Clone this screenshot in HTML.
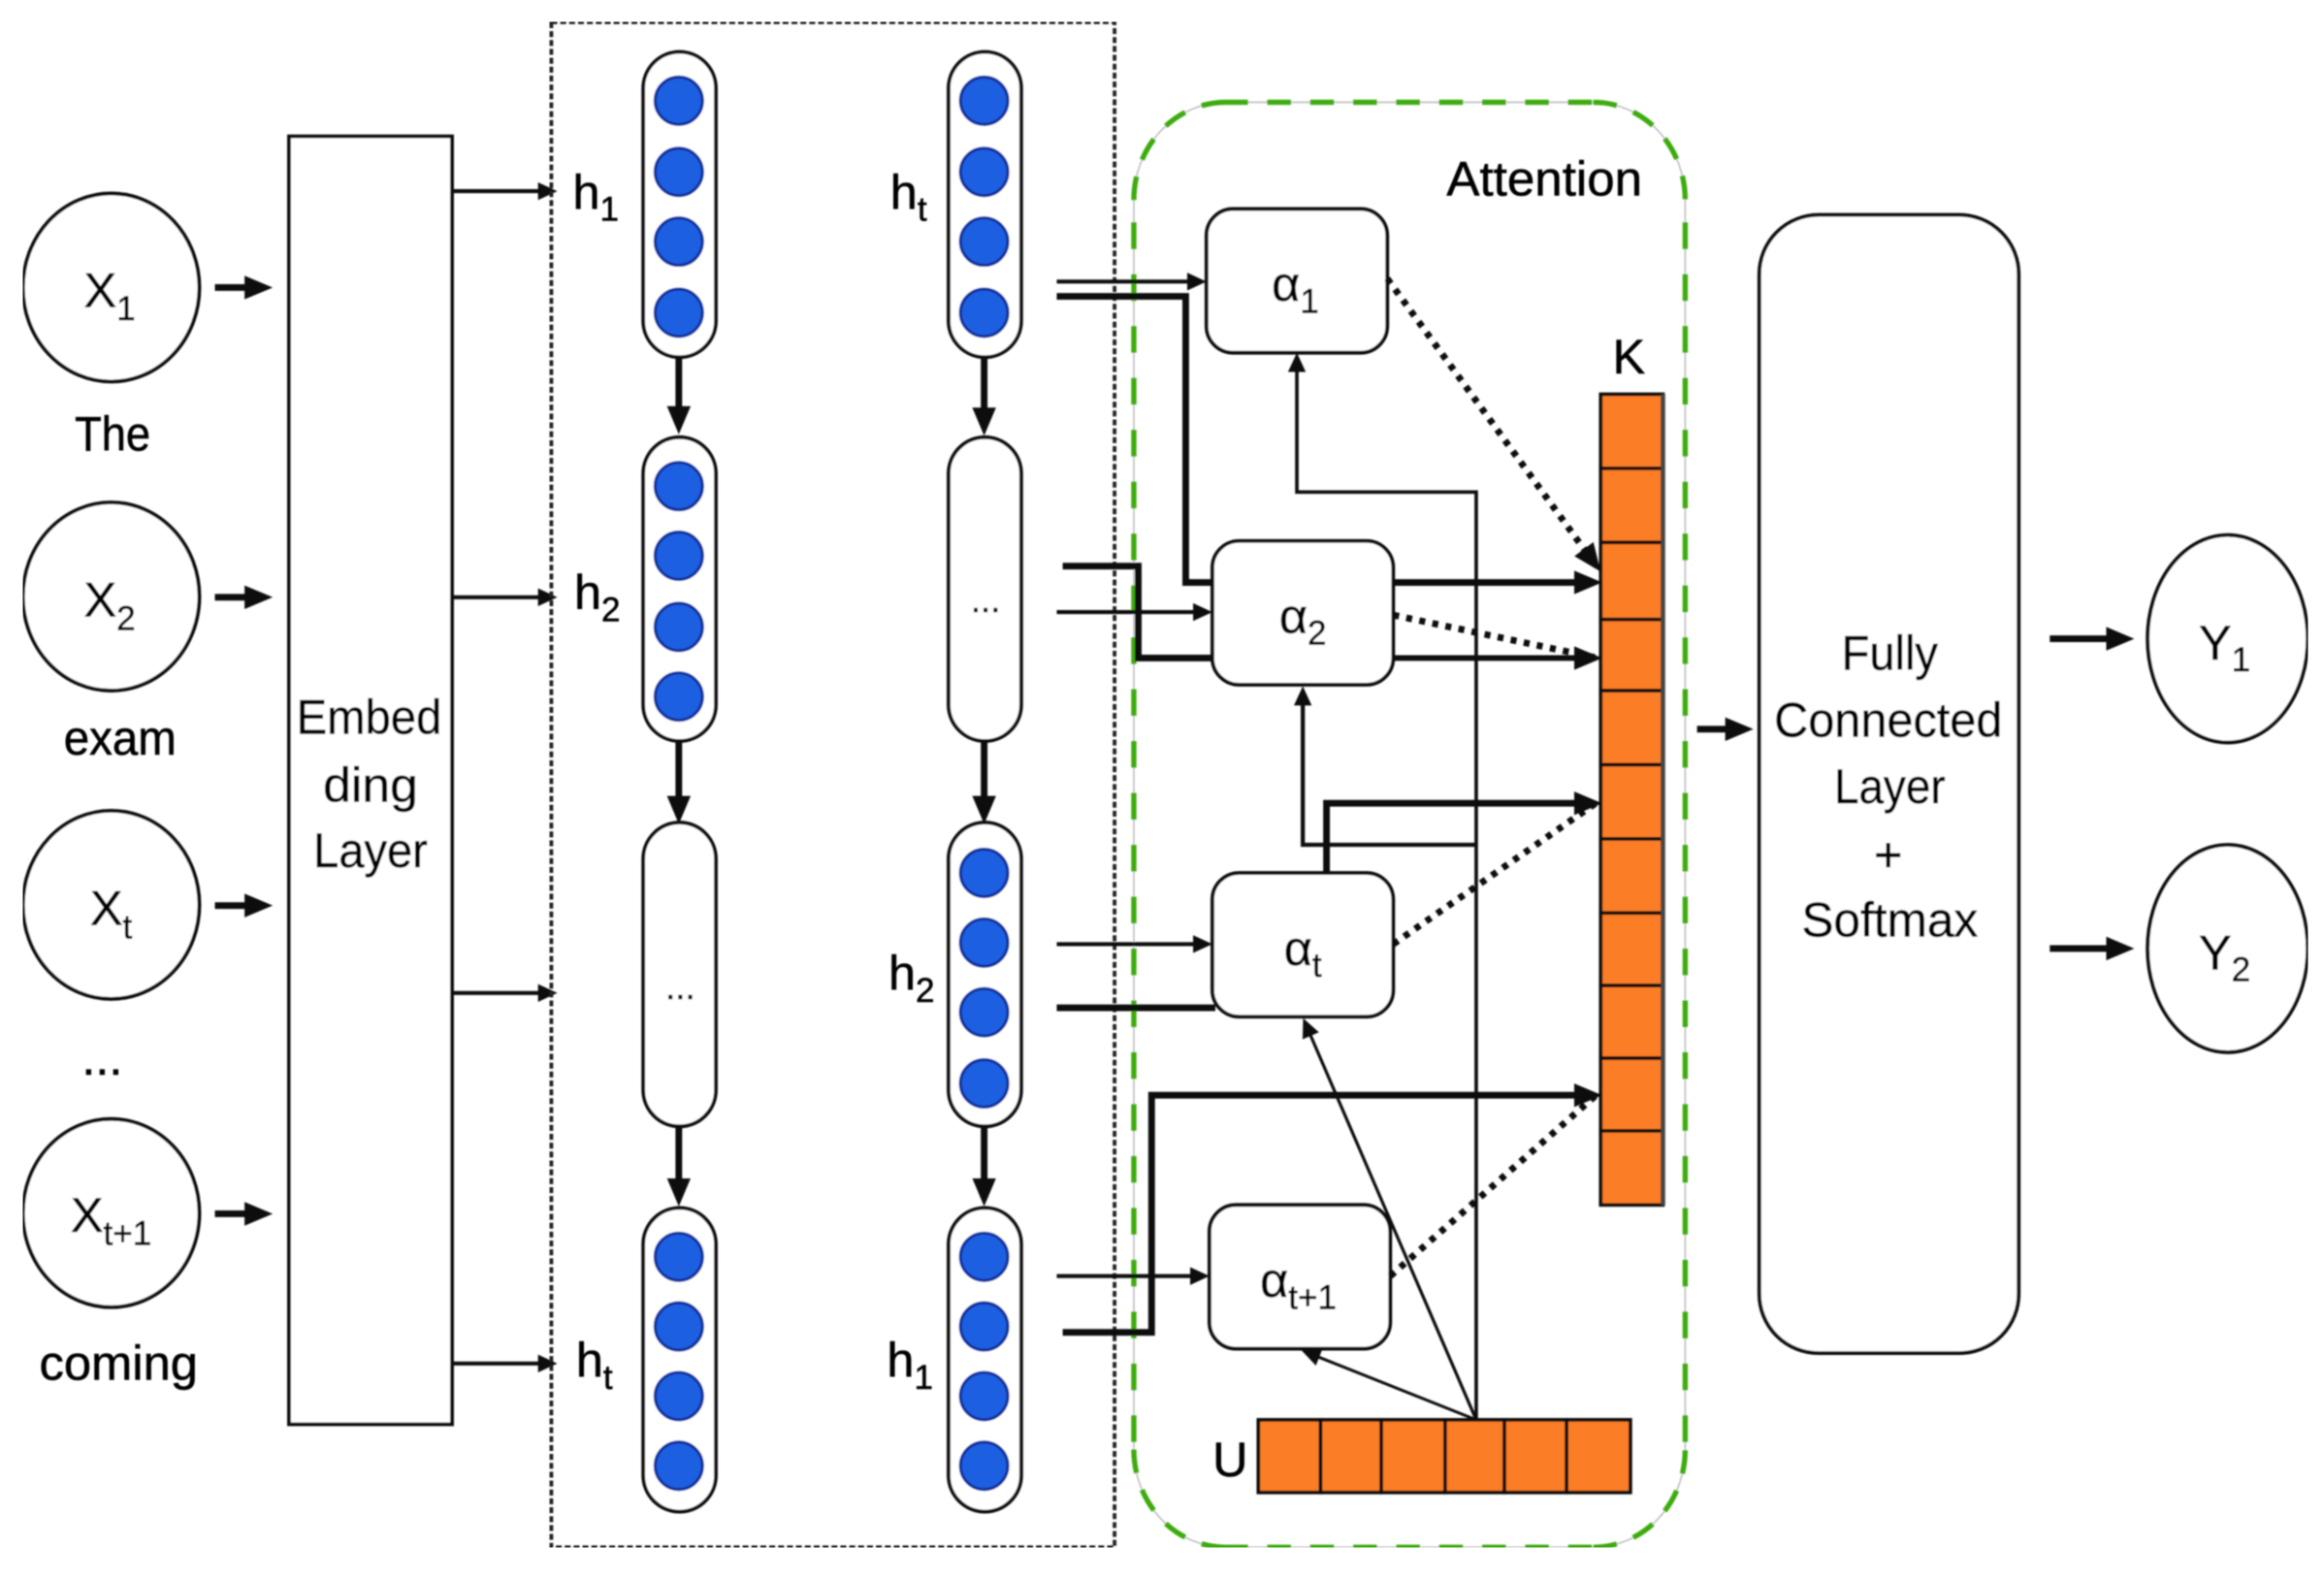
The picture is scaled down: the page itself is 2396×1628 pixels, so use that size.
<!DOCTYPE html>
<html><head><meta charset="utf-8"><style>
html,body{margin:0;padding:0;background:#fff;width:2396px;height:1628px;overflow:hidden}
svg{display:block}
text{font-family:"Liberation Sans",sans-serif;fill:#000;stroke:#000;stroke-width:.35px;font-size:33px;text-anchor:middle}
.s{font-size:23px}
.p{fill:#fff;stroke:#111;stroke-width:2.5}
.d{fill:#1a5fe0;stroke:#0b2f9c;stroke-width:2}
.o{fill:#fb7d25;stroke:#111;stroke-width:2.4}
.l{fill:none;stroke:#111;stroke-width:2}
.m{fill:none;stroke:#111;stroke-width:2.7}
.t{fill:none;stroke:#111;stroke-width:4.5}
.q{fill:none;stroke:#111;stroke-width:4.5;stroke-dasharray:4 5}
.g{fill:none;stroke:#3cab0c;stroke-width:3.5}
</style></head><body>
<svg width="2396" height="1628" viewBox="0 0 1568 1065.4" xmlns="http://www.w3.org/2000/svg">
<defs>
<marker id="a" markerUnits="userSpaceOnUse" markerWidth="14" markerHeight="14" refX="6" refY="7" orient="auto"><path d="M0 1L13 7L0 13z" fill="#111"/></marker>
<marker id="b" markerUnits="userSpaceOnUse" markerWidth="20" markerHeight="20" refX="9" refY="10" orient="auto"><path d="M0 2L19 10L0 18z" fill="#111"/></marker>
<filter id="f" x="0" y="0" width="100%" height="100%"><feGaussianBlur stdDeviation="0.45"/></filter>
</defs>
<rect width="1568" height="1066" fill="#fff"/>
<g filter="url(#f)">

<!-- input circles -->
<ellipse class="p" cx="75" cy="194" rx="59.5" ry="63.5"/><ellipse class="p" cx="75" cy="402.5" rx="59.5" ry="63.5"/><ellipse class="p" cx="75" cy="610.5" rx="59.5" ry="63.5"/><ellipse class="p" cx="75" cy="818.5" rx="59.5" ry="63.5"/>
<text x="74" y="207">X<tspan class="s" dy="9">1</tspan></text>
<text x="74" y="416">X<tspan class="s" dy="9">2</tspan></text>
<text x="75" y="624">X<tspan class="s" dy="9">t</tspan></text>
<text x="75" y="831">X<tspan class="s" dy="9">t+1</tspan></text>
<text x="76" y="304" textLength="51" lengthAdjust="spacingAndGlyphs">The</text><text x="81" y="509" textLength="76" lengthAdjust="spacingAndGlyphs">exam</text><text x="69" y="725">...</text><text x="80" y="931" textLength="107" lengthAdjust="spacingAndGlyphs">coming</text>
<path class="t" d="M145 194H174" marker-end="url(#b)"/><path class="t" d="M145 403H174" marker-end="url(#b)"/><path class="t" d="M145 611H174" marker-end="url(#b)"/><path class="t" d="M145 819H174" marker-end="url(#b)"/>

<!-- embedding -->
<rect x="195" y="92" width="110" height="869" class="p"/>
<text x="249" y="495" textLength="98" lengthAdjust="spacingAndGlyphs">Embed</text><text x="250" y="541" textLength="64" lengthAdjust="spacingAndGlyphs">ding</text><text x="250" y="585" textLength="77" lengthAdjust="spacingAndGlyphs">Layer</text>
<path class="m" d="M305 129H369" marker-end="url(#a)"/><path class="m" d="M305 403H369" marker-end="url(#a)"/><path class="m" d="M305 670H369" marker-end="url(#a)"/><path class="m" d="M305 920H369" marker-end="url(#a)"/>

<!-- bi-lstm box -->
<rect x="372" y="15" width="380" height="1029" fill="none" stroke="#222" stroke-width="2.5" stroke-dasharray="4 2"/>
<text x="402" y="141">h<tspan class="s" dy="8">1</tspan></text>
<text x="403" y="411">h<tspan class="s" dy="8">2</tspan></text>
<text x="401" y="929">h<tspan class="s" dy="8">t</tspan></text>
<text x="613" y="141">h<tspan class="s" dy="8">t</tspan></text>
<text x="615" y="668">h<tspan class="s" dy="8">2</tspan></text>
<text x="614" y="929">h<tspan class="s" dy="8">1</tspan></text>

<!-- vertical arrows -->
<path class="t" d="M458 241V283" marker-end="url(#b)"/><path class="t" d="M458 500V546" marker-end="url(#b)"/><path class="t" d="M458 760V804" marker-end="url(#b)"/>
<path class="t" d="M664 241V284" marker-end="url(#b)"/><path class="t" d="M664 500V546" marker-end="url(#b)"/><path class="t" d="M664 760V804" marker-end="url(#b)"/>

<!-- pills -->
<rect x="434" y="35" width="49" height="206" rx="24.5" class="p"/><rect x="434" y="295" width="49" height="205" rx="24.5" class="p"/><rect x="434" y="555" width="49" height="205" rx="24.5" class="p"/><rect x="434" y="815" width="49" height="205" rx="24.5" class="p"/>
<rect x="640" y="35" width="49" height="206" rx="24.5" class="p"/><rect x="640" y="295" width="49" height="205" rx="24.5" class="p"/><rect x="640" y="555" width="49" height="205" rx="24.5" class="p"/><rect x="640" y="815" width="49" height="205" rx="24.5" class="p"/>
<text x="459" y="674" style="font-size:24px">...</text><text x="665" y="413" style="font-size:24px">...</text>
<circle class="d" cx="458" cy="68" r="16"/><circle class="d" cx="458" cy="116" r="16"/><circle class="d" cx="458" cy="163" r="16"/><circle class="d" cx="458" cy="211" r="16"/>
<circle class="d" cx="458" cy="328" r="16"/><circle class="d" cx="458" cy="375" r="16"/><circle class="d" cx="458" cy="423" r="16"/><circle class="d" cx="458" cy="470" r="16"/>
<circle class="d" cx="458" cy="848" r="16"/><circle class="d" cx="458" cy="895" r="16"/><circle class="d" cx="458" cy="942" r="16"/><circle class="d" cx="458" cy="989" r="16"/>
<circle class="d" cx="664" cy="68" r="16"/><circle class="d" cx="664" cy="116" r="16"/><circle class="d" cx="664" cy="163" r="16"/><circle class="d" cx="664" cy="211" r="16"/>
<circle class="d" cx="664" cy="589" r="16"/><circle class="d" cx="664" cy="636" r="16"/><circle class="d" cx="664" cy="683" r="16"/><circle class="d" cx="664" cy="731" r="16"/>
<circle class="d" cx="664" cy="848" r="16"/><circle class="d" cx="664" cy="895" r="16"/><circle class="d" cx="664" cy="942" r="16"/><circle class="d" cx="664" cy="989" r="16"/>

<!-- attention -->
<rect x="765" y="69" width="372" height="975" rx="62" ry="66" fill="none" stroke="#bbb" stroke-width="1"/>
<path class="g" style="stroke-dasharray:16 13" d="M826 69H1075"/>
<path class="g" style="stroke-dasharray:16 13" d="M826 1044H1075"/>
<path class="g" style="stroke-dasharray:18 17" d="M765 150V975"/>
<path class="g" style="stroke-dasharray:18 17" d="M1137 150V975"/>
<path class="g" style="stroke-dasharray:16 12" d="M765 135A62 66 0 0 1 827 69"/>
<path class="g" style="stroke-dasharray:16 12" d="M1075 69A62 66 0 0 1 1137 135"/>
<path class="g" style="stroke-dasharray:16 12" d="M765 978A62 66 0 0 0 827 1044"/>
<path class="g" style="stroke-dasharray:16 12" d="M1075 1044A62 66 0 0 0 1137 978"/>
<text x="1042" y="132" textLength="132" lengthAdjust="spacingAndGlyphs">Attention</text>
<text x="1099" y="252">K</text>
<text x="830" y="996">U</text>

<!-- U feed lines -->
<path class="l" d="M996 958V332H875V245" style="stroke-width:2.4" marker-end="url(#a)"/>
<path class="l" d="M996 570H879V470" style="stroke-width:2.8" marker-end="url(#a)"/>
<path class="l" d="M996 958L882 693.4" marker-end="url(#a)"/>
<path class="l" d="M996 958L884.5 913.6" marker-end="url(#a)"/>

<!-- input lines into alpha -->
<path class="m" d="M713 190H807" marker-end="url(#a)"/>
<path class="t" d="M713 200H800V393H818"/>
<path class="t" d="M717 382H768V444H818"/>
<path class="m" d="M713 413H811" marker-end="url(#a)"/>
<path class="m" d="M713 637H811" marker-end="url(#a)"/>
<path class="t" d="M713 680H820"/>
<path class="m" d="M713 861H809" marker-end="url(#a)"/>
<path class="t" d="M717 899H777V739H1071" marker-end="url(#b)"/>

<!-- alpha boxes -->
<rect x="814" y="141" width="122" height="97" rx="18" class="p"/>
<rect x="818" y="365" width="122" height="97" rx="18" class="p"/>
<rect x="818" y="589" width="122" height="97" rx="18" class="p"/>
<rect x="816" y="813" width="122" height="97" rx="18" class="p"/>
<text x="874" y="203">α<tspan class="s" dy="8">1</tspan></text>
<text x="879" y="427">α<tspan class="s" dy="8">2</tspan></text>
<text x="879" y="651">α<tspan class="s" dy="8">t</tspan></text>
<text x="876" y="875">α<tspan class="s" dy="8">t+1</tspan></text>

<!-- redraw lines crossing boxes -->
<path class="l" d="M996 958L882 693.4"/>

<!-- outputs to K -->
<path class="t" d="M940 393H1071" marker-end="url(#b)"/>
<path class="t" d="M940 444H1071" style="stroke-width:3.8" marker-end="url(#b)"/>
<path class="t" d="M895 589V542H1071" marker-end="url(#b)"/>
<path class="q" d="M936 188L1072 375"/>
<path class="l" d="M1072 375L1074 377.7" marker-end="url(#b)"/>
<path class="q" d="M940 415L1078 444"/>
<path class="q" d="M940 637L1078 541"/>
<path class="q" d="M938 861L1078 738"/>

<!-- K -->
<rect x="1080" y="266" width="42" height="50" class="o"/><rect x="1080" y="316" width="42" height="50" class="o"/><rect x="1080" y="366" width="42" height="52" class="o"/><rect x="1080" y="418" width="42" height="48" class="o"/><rect x="1080" y="466" width="42" height="50" class="o"/><rect x="1080" y="516" width="42" height="50" class="o"/><rect x="1080" y="566" width="42" height="50" class="o"/><rect x="1080" y="616" width="42" height="49" class="o"/><rect x="1080" y="665" width="42" height="49" class="o"/><rect x="1080" y="714" width="42" height="49" class="o"/><rect x="1080" y="763" width="42" height="50" class="o"/>
<path d="M1122 266V813" stroke="#444" stroke-width="3"/>

<!-- U -->
<rect x="849" y="958" width="42" height="49" class="o"/><rect x="891" y="958" width="41" height="49" class="o"/><rect x="932" y="958" width="43" height="49" class="o"/><rect x="975" y="958" width="40" height="49" class="o"/><rect x="1015" y="958" width="42" height="49" class="o"/><rect x="1057" y="958" width="43" height="49" class="o"/>

<!-- output -->
<path class="t" d="M1145 492H1173" marker-end="url(#b)"/>
<rect x="1187" y="145" width="175" height="768" rx="40" class="p"/>
<text x="1275" y="452" textLength="65" lengthAdjust="spacingAndGlyphs">Fully</text><text x="1274" y="497" textLength="154" lengthAdjust="spacingAndGlyphs">Connected</text><text x="1275" y="542" textLength="75" lengthAdjust="spacingAndGlyphs">Layer</text><text x="1274" y="588">+</text><text x="1275" y="632" textLength="119" lengthAdjust="spacingAndGlyphs">Softmax</text>
<path class="t" d="M1383 431H1430" marker-end="url(#b)"/><path class="t" d="M1383 640H1430" marker-end="url(#b)"/>
<ellipse cx="1503" cy="431" rx="54" ry="70" class="p"/><ellipse cx="1503" cy="640" rx="54" ry="70" class="p"/>
<text x="1501" y="445">Y<tspan class="s" dy="8">1</tspan></text><text x="1501" y="654">Y<tspan class="s" dy="8">2</tspan></text>
</g>
</svg>
</body></html>
